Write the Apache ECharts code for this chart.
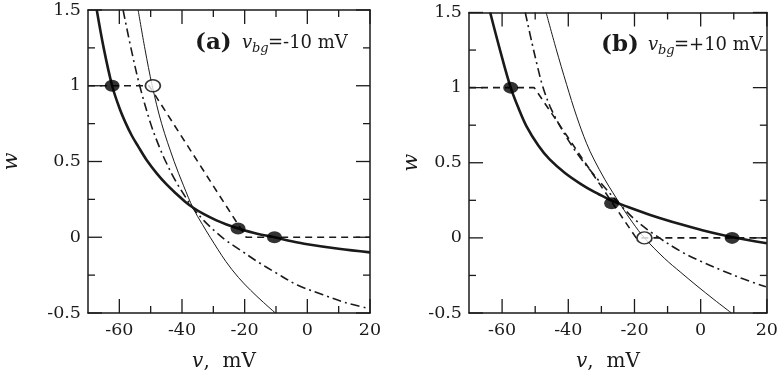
<!DOCTYPE html>
<html>
<head>
<meta charset="utf-8">
<script src="https://cdn.jsdelivr.net/npm/echarts@6/dist/echarts.min.js"></script>
<style>
  html, body { margin: 0; padding: 0; background: #fff; }
  #chart { width: 781px; height: 377px; }
</style>
</head>
<body>
<div id="chart"></div>
<script>
// tick values
const xMajorTicks = [-60, -40, -20, 0, 20]
const xMinorTicks = [-50, -30, -10, 10]
const yMajorTicks = [-0.5, 0, 0.5, 1, 1.5]
const yMinorTicks = [-0.25, 0.25, 0.75, 1.25]

// panel (a), v_bg = -10 mV
const thickA_v = [-67.2, -65, -62.3, -60, -58, -56, -54, -51.3, -48, -45, -42, -39, -36.4, -33, -29, -26, -22, -16, -10.5, -5, 0, 10, 20]
const thickA_w = [1.5, 1.25, 1.0, 0.855, 0.755, 0.67, 0.6, 0.51, 0.42, 0.35, 0.29, 0.235, 0.195, 0.152, 0.111, 0.086, 0.058, 0.023, 0.0, -0.026, -0.046, -0.076, -0.1]
const thinA_v = [-54, -51.8, -49.5, -46.5, -42.5, -39.5, -36.4, -33.5, -31, -26, -22, -18.1, -14, -10.2]
const thinA_w = [1.5, 1.24, 1.0, 0.75, 0.5, 0.34, 0.19, 0.085, 0.0, -0.16, -0.265, -0.35, -0.43, -0.5]
const dashdotA_v = [-58.8, -56.2, -53.5, -50, -47.5, -45.2, -42, -38.4, -36.4, -33, -29.5, -26, -21, -16, -10, -3.2, 5, 12, 19.6]
const dashdotA_w = [1.5, 1.24, 1.0, 0.75, 0.61, 0.5, 0.37, 0.25, 0.19, 0.11, 0.04, -0.02, -0.09, -0.16, -0.235, -0.315, -0.38, -0.43, -0.47]
const dashedA_v = [-70, -50.5, -19.5, 20]
const dashedA_w = [1, 1, 0, 0]
const fixedA_v = [-62.3, -22.1, -10.5]
const fixedA_w = [1.0, 0.058, 0.0]
const openA_v = [-49.3]
const openA_w = [1.0]

// panel (b), v_bg = +10 mV
const thickB_v = [-63.6, -60.5, -57.4, -55, -52.7, -49, -45.7, -41, -36.3, -32, -28.4, -25.9, -22.9, -15, -6, 0, 9.3, 20]
const thickB_w = [1.5, 1.24, 1.0, 0.861, 0.746, 0.613, 0.524, 0.432, 0.36, 0.304, 0.264, 0.239, 0.213, 0.151, 0.09, 0.054, 0.006, -0.036]
const thinB_v = [-46.7, -43.7, -40.5, -37.5, -34.5, -32.3, -29, -26.5, -23.9, -20.5, -17, -11, -6, -1.1, 4, 9.3]
const thinB_w = [1.5, 1.26, 1.02, 0.81, 0.63, 0.525, 0.39, 0.30, 0.21, 0.10, 0.0, -0.135, -0.23, -0.32, -0.41, -0.5]
const dashdotB_v = [-53, -51, -49.2, -47.7, -45.5, -42.3, -38.5, -35.3, -31.5, -28.4, -26, -23.9, -20, -14.5, -6, 0, 6.8, 13, 19.7]
const dashdotB_w = [1.5, 1.3, 1.131, 1.006, 0.874, 0.736, 0.599, 0.503, 0.40, 0.32, 0.26, 0.21, 0.125, 0.03, -0.09, -0.155, -0.22, -0.274, -0.326]
const dashedB_v = [-70, -50.3, -19.5, 20]
const dashedB_w = [1, 1, 0, 0]
const fixedB_v = [-57.4, -26.9, 9.5]
const fixedB_w = [1.0, 0.23, 0.0]
const openB_v = [-17]
const openB_w = [0.0]

const FONT = 'DejaVu Serif'
const INK = '#1a1a1a'
const V_MIN = -70
const V_MAX = 20
const W_MIN = -0.5
const W_MAX = 1.5

function zip (vs, ws) {
  return vs.map((v, i) => [v, ws[i]])
}

function xAxis (gridIndex, position, withLabels) {
  const axis = {
    type: 'value',
    gridIndex,
    position,
    min: V_MIN,
    max: V_MAX,
    axisLine: { show: true, onZero: false, lineStyle: { color: INK, width: 1.5 } },
    axisTick: { show: false },
    axisLabel: { show: withLabels, customValues: xMajorTicks, margin: 8, color: INK, fontFamily: FONT, fontSize: 17.5 },
    splitLine: { show: false }
  }
  if (withLabels) {
    axis.name = '{i|v},  mV'
    axis.nameLocation = 'middle'
    axis.nameGap = 39
    axis.nameTextStyle = {
      color: INK,
      fontFamily: FONT,
      fontSize: 20,
      padding: gridIndex === 1 ? [0, 20, 0, 0] : [0, 10, 0, 0],
      rich: { i: { fontStyle: 'italic', fontFamily: FONT, fontSize: 20, color: INK } }
    }
  }
  return axis
}

function yAxis (gridIndex, position, withLabels) {
  const axis = {
    type: 'value',
    gridIndex,
    position,
    min: W_MIN,
    max: W_MAX,
    interval: 0.5,
    axisLine: { show: true, onZero: false, lineStyle: { color: INK, width: 1.5 } },
    axisTick: { show: false },
    axisLabel: { show: withLabels, margin: 7, color: INK, fontFamily: FONT, fontSize: 17.5 },
    splitLine: { show: false }
  }
  if (withLabels) {
    axis.name = 'w'
    axis.nameLocation = 'middle'
    axis.nameRotate = 90
    axis.nameGap = gridIndex === 0 ? 66 : 47
    axis.nameTextStyle = { color: INK, fontFamily: FONT, fontSize: 21, fontStyle: 'italic' }
  }
  return axis
}

// inward ticks on all four sides, placed through the axes' own scales
function ticks (panel, dir, values, len) {
  const data = dir === 'x' ? values.map(v => [v, W_MIN]) : values.map(w => [V_MIN, w])
  return {
    type: 'custom',
    xAxisIndex: panel * 2,
    yAxisIndex: panel * 2,
    clip: false,
    silent: true,
    z: 4,
    data,
    renderItem (params, api) {
      const style = { stroke: INK, lineWidth: 1.3 }
      if (dir === 'x') {
        const v = api.value(0)
        const b = api.coord([v, W_MIN])
        const t = api.coord([v, W_MAX])
        return {
          type: 'group',
          children: [
            { type: 'line', shape: { x1: b[0], y1: b[1], x2: b[0], y2: b[1] - len }, style },
            { type: 'line', shape: { x1: t[0], y1: t[1], x2: t[0], y2: t[1] + len }, style }
          ]
        }
      }
      const w = api.value(1)
      const l = api.coord([V_MIN, w])
      const r = api.coord([V_MAX, w])
      return {
        type: 'group',
        children: [
          { type: 'line', shape: { x1: l[0], y1: l[1], x2: l[0] + len, y2: l[1] }, style },
          { type: 'line', shape: { x1: r[0], y1: r[1], x2: r[0] - len, y2: r[1] }, style }
        ]
      }
    }
  }
}

function curve (data, panel, width, type, smooth) {
  return {
    type: 'line',
    xAxisIndex: panel * 2,
    yAxisIndex: panel * 2,
    data,
    symbol: 'none',
    smooth: smooth ? 0.35 : false,
    lineStyle: { color: INK, width, type },
    z: 3,
    silent: true
  }
}

function dots (data, panel, open) {
  return {
    type: 'scatter',
    xAxisIndex: panel * 2,
    yAxisIndex: panel * 2,
    data,
    symbol: 'circle',
    symbolSize: [15, 12],
    itemStyle: open
      ? { color: '#fff', borderColor: '#000', borderWidth: 1.6 }
      : { color: '#000' },
    z: 5,
    silent: true
  }
}

function panelLabel (x0, y0, letter, value) {
  return [
    { type: 'text', x: x0, y: y0, style: { text: '(' + letter + ')', font: 'bold 23px "DejaVu Serif"', fill: INK, verticalAlign: 'middle' } },
    { type: 'text', x: x0 + 47, y: y0, style: { text: 'v', font: 'italic 18px "DejaVu Serif"', fill: INK, verticalAlign: 'middle' } },
    { type: 'text', x: x0 + 57, y: y0 + 6, style: { text: 'bg', font: 'italic 13px "DejaVu Serif"', fill: INK, verticalAlign: 'middle' } },
    { type: 'text', x: x0 + 73, y: y0, style: { text: '=' + value + ' mV', font: '18px "DejaVu Serif"', fill: INK, verticalAlign: 'middle' } }
  ]
}

const myChart = echarts.init(document.getElementById('chart'))
myChart.setOption({
  animation: false,
  backgroundColor: '#fff',
  grid: [
    { left: 67, top: 10, width: 303, height: 303 },
    { left: 469, top: 12.5, width: 302, height: 303 }
  ],
  xAxis: [
    xAxis(0, 'bottom', true),
    xAxis(0, 'top', false),
    xAxis(1, 'bottom', true),
    xAxis(1, 'top', false)
  ],
  yAxis: [
    yAxis(0, 'left', true),
    yAxis(0, 'right', false),
    yAxis(1, 'left', true),
    yAxis(1, 'right', false)
  ],
  graphic: [
    ...panelLabel(195, 43, 'a', '-10'),
    ...panelLabel(601, 45, 'b', '+10')
  ],
  series: [
    ticks(0, 'x', xMajorTicks, 14),
    ticks(0, 'x', xMinorTicks, 7),
    ticks(0, 'y', yMajorTicks, 14),
    ticks(0, 'y', yMinorTicks, 7),
    ticks(1, 'x', xMajorTicks, 14),
    ticks(1, 'x', xMinorTicks, 7),
    ticks(1, 'y', yMajorTicks, 14),
    ticks(1, 'y', yMinorTicks, 7),
    curve(zip(dashedA_v, dashedA_w), 0, 1.6, [7, 5], false),
    curve(zip(dashdotA_v, dashdotA_w), 0, 1.6, [9, 4, 2, 4], true),
    curve(zip(thinA_v, thinA_w), 0, 1, 'solid', true),
    curve(zip(thickA_v, thickA_w), 0, 2.6, 'solid', true),
    dots(zip(fixedA_v, fixedA_w), 0, false),
    dots(zip(openA_v, openA_w), 0, true),
    curve(zip(dashedB_v, dashedB_w), 1, 1.6, [7, 5], false),
    curve(zip(dashdotB_v, dashdotB_w), 1, 1.6, [9, 4, 2, 4], true),
    curve(zip(thinB_v, thinB_w), 1, 1, 'solid', true),
    curve(zip(thickB_v, thickB_w), 1, 2.6, 'solid', true),
    dots(zip(fixedB_v, fixedB_w), 1, false),
    dots(zip(openB_v, openB_w), 1, true)
  ]
})
</script>
</body>
</html>
